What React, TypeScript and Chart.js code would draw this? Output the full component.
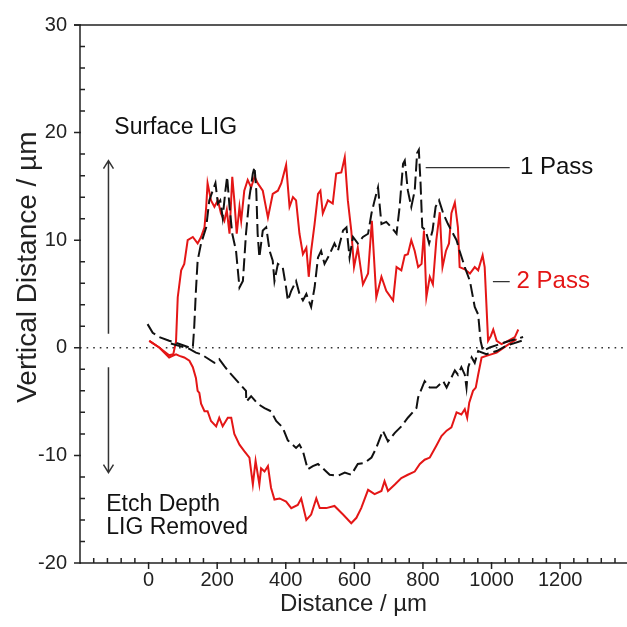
import React, { useEffect, useRef } from 'react';
import { Chart, registerables } from 'chart.js';

Chart.register(...registerables);

// ---- Data (distance in µm, vertical distance in µm) ----
const PASS1_SURFACE: [number, number][] = [
  [-3, 2.2], [12, 1.4], [31, 1.0], [60, 0.65], [90, 0.35], [119, 0.03], [129, 0.03], [133, 1.9], [138, 5.3],
  [143, 8.1], [153, 9.7], [168, 11.2], [177, 13.7], [187, 14.6], [195, 15.3], [202, 13.4], [209, 13.7],
  [216, 12.1], [224, 14.6], [229, 15.9], [236, 13.1], [244, 10.6], [255, 9.0], [265, 5.6], [275, 6.2],
  [284, 10.6], [294, 14.0], [304, 16.2], [309, 16.8], [314, 14.6], [318, 10.6], [323, 8.4], [333, 10.9],
  [343, 11.2], [353, 9.0], [362, 8.1], [367, 6.2], [377, 7.8], [391, 7.5], [401, 5.6], [406, 4.4],
  [416, 5.3], [430, 6.2], [440, 5.0], [450, 4.4], [460, 5.0], [474, 3.8], [484, 5.6], [494, 8.4],
  [503, 9.0], [513, 7.8], [528, 8.7], [542, 9.7], [552, 9.0], [567, 10.9], [577, 11.2], [586, 8.4],
  [596, 10.3], [610, 9.7], [625, 10.3], [640, 10.6], [650, 12.5], [659, 13.7], [669, 14.9], [679, 11.5],
  [693, 11.7], [708, 11.2], [723, 10.6], [732, 13.1], [742, 17.1], [747, 17.4], [756, 14.6], [766, 13.1],
  [776, 14.6], [783, 18.1], [788, 18.4], [793, 15.3], [798, 11.2], [808, 10.9], [818, 9.7], [828, 10.9],
  [837, 13.1], [847, 13.7], [859, 12.5], [873, 11.5], [888, 10.6], [898, 10.0], [907, 9.0], [922, 7.5],
  [937, 6.2], [951, 3.8], [961, 3.1], [968, 0.65], [975, -0.3], [995, 0.03], [1024, 0.35], [1054, 0.65],
  [1092, 1.0],
];

const PASS1_ETCH: [number, number][] = [
  [65, 0.4], [119, -0.1], [138, -0.45], [153, -0.6], [168, -0.9], [192, -1.4], [206, -1.05], [221, -1.7],
  [236, -2.3], [250, -2.8], [270, -3.5], [284, -4.0], [285, -5.0], [299, -4.5], [318, -5.2], [338, -5.6],
  [357, -5.9], [372, -6.8], [391, -7.4], [406, -8.6], [430, -9.3], [440, -9.0], [450, -9.6], [464, -11.3],
  [479, -11.0], [494, -10.8], [508, -11.2], [528, -11.8], [552, -11.9], [572, -11.6], [591, -11.8],
  [610, -10.8], [630, -10.7], [650, -10.2], [664, -9.3], [683, -7.7], [698, -8.7], [718, -7.9], [737, -7.3],
  [756, -6.5], [781, -5.6], [786, -4.6], [805, -3.1], [820, -3.7], [839, -3.7], [859, -3.1], [869, -3.7],
  [878, -3.1], [893, -2.1], [902, -2.5], [912, -1.8], [922, -2.5], [927, -3.7], [932, -1.8], [942, -0.9],
  [951, -1.4], [961, -0.3], [985, -0.6], [1015, -0.3], [1044, 0.2], [1088, 0.65],
];

const PASS2_SURFACE: [number, number][] = [
  [2, 0.65], [31, 0.03], [60, -0.7], [72, -0.6], [80, 0.6], [85, 4.7], [95, 7.2], [104, 7.8], [114, 10.0],
  [129, 10.3], [143, 9.7], [153, 10.3], [163, 11.2], [168, 13.1], [172, 15.3], [182, 13.7], [192, 13.1],
  [202, 13.7], [211, 12.5], [221, 11.8], [228, 12.8], [236, 10.6], [244, 15.9], [250, 13.7], [257, 10.6],
  [265, 13.1], [270, 11.8], [279, 14.6], [289, 15.6], [299, 14.9], [309, 15.9], [318, 15.3], [333, 14.6],
  [348, 12.1], [362, 14.3], [377, 14.6], [387, 15.3], [401, 17.0], [411, 13.1], [421, 14.0], [430, 13.7],
  [440, 10.6], [450, 8.7], [460, 9.3], [467, 6.6], [474, 9.0], [484, 11.5], [494, 14.3], [501, 14.6],
  [508, 12.5], [523, 13.7], [537, 13.4], [547, 16.2], [562, 16.3], [572, 17.7], [581, 13.7], [591, 10.9],
  [599, 7.5], [610, 9.3], [625, 5.9], [640, 6.9], [651, 11.8], [664, 4.7], [679, 6.6], [693, 5.3],
  [713, 4.4], [723, 7.5], [737, 7.2], [747, 8.6], [756, 8.7], [766, 10.0], [776, 9.0], [786, 7.5],
  [796, 7.8], [803, 10.9], [810, 4.7], [820, 6.6], [829, 5.9], [839, 10.0], [849, 12.6], [857, 7.5],
  [867, 9.0], [876, 9.7], [883, 12.5], [893, 13.5], [902, 11.2], [907, 7.5], [922, 7.3], [937, 6.9],
  [951, 7.5], [961, 7.2], [974, 8.6], [980, 7.5], [990, 0.65], [998, 1.1], [1005, 1.7], [1015, 0.65],
  [1029, 0.35], [1048, 0.65], [1068, 1.0], [1078, 1.7],
];

const PASS2_ETCH: [number, number][] = [
  [2, 0.65], [31, 0.03], [60, -0.9], [70, -0.75], [80, -0.6], [90, -0.75], [104, -0.9], [119, -1.2],
  [129, -1.8], [138, -2.8], [143, -4.0], [148, -4.2], [153, -5.2], [163, -5.9], [172, -5.9], [182, -6.8],
  [197, -7.3], [206, -6.5], [216, -7.3], [231, -6.5], [241, -6.5], [250, -8.0], [265, -9.0], [279, -9.6],
  [294, -10.2], [304, -12.7], [312, -10.5], [323, -12.7], [328, -11.2], [338, -11.5], [348, -11.0],
  [357, -13.0], [367, -14.1], [382, -14.0], [401, -14.3], [416, -14.9], [435, -14.6], [445, -14.0],
  [460, -16.0], [474, -15.5], [489, -14.0], [499, -14.9], [518, -14.9], [542, -14.7], [567, -15.5],
  [591, -16.3], [606, -15.8], [620, -14.9], [640, -13.2], [659, -13.6], [679, -13.3], [688, -12.4],
  [698, -13.3], [718, -12.7], [737, -12.1], [756, -11.8], [776, -11.5], [791, -10.8], [805, -10.4],
  [820, -10.2], [839, -9.1], [854, -8.2], [869, -7.7], [883, -7.4], [898, -6.0], [912, -6.2], [922, -5.7],
  [929, -6.5], [935, -5.1], [946, -4.0], [954, -3.7], [961, -2.5], [971, -0.9], [985, -0.75],
  [1015, -0.45], [1044, 0.2], [1073, 0.8],
];

const ZERO_LINE: [number, number][] = [[-200, 0], [1400, 0]];

const X_TICK_LABELS = [0, 200, 400, 600, 800, 1000, 1200];
const Y_TICK_LABELS = [-20, -10, 0, 10, 20, 30];
const X_MINOR_STEP = 40;
const Y_MINOR_STEP = 2;

const SERIES_LABELS = ['1 Pass', '2 Pass'];
const X_TITLE = 'Distance / µm';
const Y_TITLE = 'Vertical Distance / µm';

const X_RANGE = { min: -200, max: 1395 };
const Y_RANGE = { min: -20, max: 30 };

const RED = 'rgb(228,22,22)';
const BLACK = '#111111';
const AXIS = '#222222';
const FONT = "'Liberation Sans', Arial, sans-serif";

const toPts = (arr: [number, number][]) => arr.map(([x, y]) => ({ x, y }));

const decorPlugin = {
  id: 'decor',
  afterDraw(chart: any) {
    const { ctx, chartArea, scales } = chart;
    const { left, top, right, bottom } = chartArea;
    const xs = scales.x;
    const ys = scales.y;
    const px = (v: number) => xs.getPixelForValue(v);
    const py = (v: number) => ys.getPixelForValue(v);
    ctx.save();
    ctx.strokeStyle = AXIS;
    ctx.lineWidth = 1.5;
    ctx.lineCap = 'butt';
    ctx.beginPath();
    ctx.moveTo(left, top);
    ctx.lineTo(left, bottom);
    ctx.lineTo(right, bottom);
    ctx.moveTo(left - 6, top);
    ctx.lineTo(right, top);
    ctx.stroke();
    ctx.beginPath();
    for (let v = X_RANGE.min + X_MINOR_STEP; v < X_RANGE.max; v += X_MINOR_STEP) {
      const x = px(v);
      if (v % 200 === 0) {
        ctx.moveTo(x, bottom - 1);
        ctx.lineTo(x, bottom + 6);
      } else {
        ctx.moveTo(x, bottom);
        ctx.lineTo(x, bottom - 5);
      }
    }
    for (let v = Y_RANGE.min; v <= Y_RANGE.max; v += Y_MINOR_STEP) {
      const y = py(v);
      if (v % 10 === 0) {
        ctx.moveTo(left - 6, y);
        ctx.lineTo(left + 1, y);
      } else {
        ctx.moveTo(left, y);
        ctx.lineTo(left + 5, y);
      }
    }
    ctx.stroke();

    ctx.strokeStyle = '#333';
    ctx.lineWidth = 1.5;
    const ax = px(-117);
    const upFrom = py(1.3), upTo = py(17.4);
    const dnFrom = py(-1.8), dnTo = py(-11.6);
    ctx.beginPath();
    ctx.moveTo(ax, upFrom); ctx.lineTo(ax, upTo);
    ctx.moveTo(ax - 5, upTo + 8); ctx.lineTo(ax, upTo); ctx.lineTo(ax + 5, upTo + 8);
    ctx.moveTo(ax, dnFrom); ctx.lineTo(ax, dnTo);
    ctx.moveTo(ax - 5, dnTo - 8); ctx.lineTo(ax, dnTo); ctx.lineTo(ax + 5, dnTo - 8);
    ctx.stroke();

    ctx.beginPath();
    ctx.lineWidth = 1.3;
    ctx.moveTo(px(808), py(16.75)); ctx.lineTo(px(1053), py(16.75));
    ctx.moveTo(px(1004), py(6.15)); ctx.lineTo(px(1053), py(6.15));
    ctx.stroke();

    ctx.textAlign = 'left';
    ctx.textBaseline = 'middle';
    ctx.font = `24px ${FONT}`;
    ctx.fillStyle = BLACK;
    ctx.fillText(SERIES_LABELS[0], px(1083), py(16.8));
    ctx.fillStyle = RED;
    ctx.fillText(SERIES_LABELS[1], px(1073), py(6.15));
    ctx.fillStyle = BLACK;
    ctx.textBaseline = 'alphabetic';
    ctx.font = `23px ${FONT}`;
    ctx.fillText('Surface LIG', px(-100), py(19.85));
    ctx.fillText('Etch Depth', px(-123.5), py(-15.2));
    ctx.fillText('LIG Removed', px(-123.5), py(-17.3));

    // y-axis title
    ctx.save();
    ctx.fillStyle = AXIS;
    ctx.font = `28px ${FONT}`;
    ctx.textAlign = 'center';
    ctx.textBaseline = 'middle';
    ctx.translate(28, py(7.5));
    ctx.rotate(-Math.PI / 2);
    ctx.fillText(Y_TITLE, 0, 0);
    ctx.restore();
    ctx.restore();
  },
};

export default function App() {
  const canvasRef = useRef<HTMLCanvasElement | null>(null);

  useEffect(() => {
    const canvas = canvasRef.current;
    if (!canvas) return;
    const lineSet = (label: string, pts: [number, number][], color: string, dashed: boolean) => ({
      label,
      data: toPts(pts),
      showLine: true,
      borderColor: color,
      borderWidth: 2,
      borderDash: dashed ? [13, 5] : [],
      pointRadius: 0,
      tension: 0,
    });
    const chart = new Chart(canvas, {
      type: 'scatter',
      data: {
        datasets: [
          lineSet(SERIES_LABELS[0] + ' surface', PASS1_SURFACE, BLACK, true),
          lineSet(SERIES_LABELS[0] + ' etch', PASS1_ETCH, BLACK, true),
          lineSet(SERIES_LABELS[1] + ' surface', PASS2_SURFACE, RED, false),
          lineSet(SERIES_LABELS[1] + ' etch', PASS2_ETCH, RED, false),
          {
            label: 'zero',
            data: toPts(ZERO_LINE),
            showLine: true,
            borderColor: '#333',
            borderWidth: 1.6,
            borderDash: [1.6, 5],
            pointRadius: 0,
          },
        ],
      },
      options: {
        animation: false,
        responsive: true,
        maintainAspectRatio: false,
        layout: { padding: { left: 0, top: 25, right: 0, bottom: 0 } },
        plugins: { legend: { display: false }, tooltip: { enabled: false } },
        scales: {
          x: {
            type: 'linear',
            min: X_RANGE.min,
            max: X_RANGE.max,
            grid: { display: false, drawTicks: false },
            border: { display: false },
            afterBuildTicks: (scale: any) => {
              scale.ticks = X_TICK_LABELS.map((v) => ({ value: v }));
            },
            afterFit: (scale: any) => {
              scale.height = 64;
            },
            ticks: {
              autoSkip: false,
              maxRotation: 0,
              padding: 5,
              color: AXIS,
              font: { family: FONT, size: 20 },
              callback: (v: any) => String(v),
            },
            title: {
              display: true,
              text: X_TITLE,
              color: AXIS,
              font: { family: FONT, size: 24 },
              padding: { top: 0, bottom: 8 },
            },
          },
          y: {
            type: 'linear',
            min: Y_RANGE.min,
            max: Y_RANGE.max,
            grid: { display: false, drawTicks: false },
            border: { display: false },
            afterBuildTicks: (scale: any) => {
              scale.ticks = Y_TICK_LABELS.map((v) => ({ value: v }));
            },
            afterFit: (scale: any) => {
              scale.width = 80;
            },
            ticks: {
              autoSkip: false,
              padding: 13,
              color: AXIS,
              font: { family: FONT, size: 20 },
              callback: (v: any) => String(v),
            },
            title: { display: false },
          },
        },
      },
      plugins: [decorPlugin],
    });
    return () => chart.destroy();
  }, []);

  return (
    <div style={{ position: 'fixed', left: 0, top: 0, width: 627, height: 627, background: '#fff' }}>
      <canvas ref={canvasRef} />
    </div>
  );
}
